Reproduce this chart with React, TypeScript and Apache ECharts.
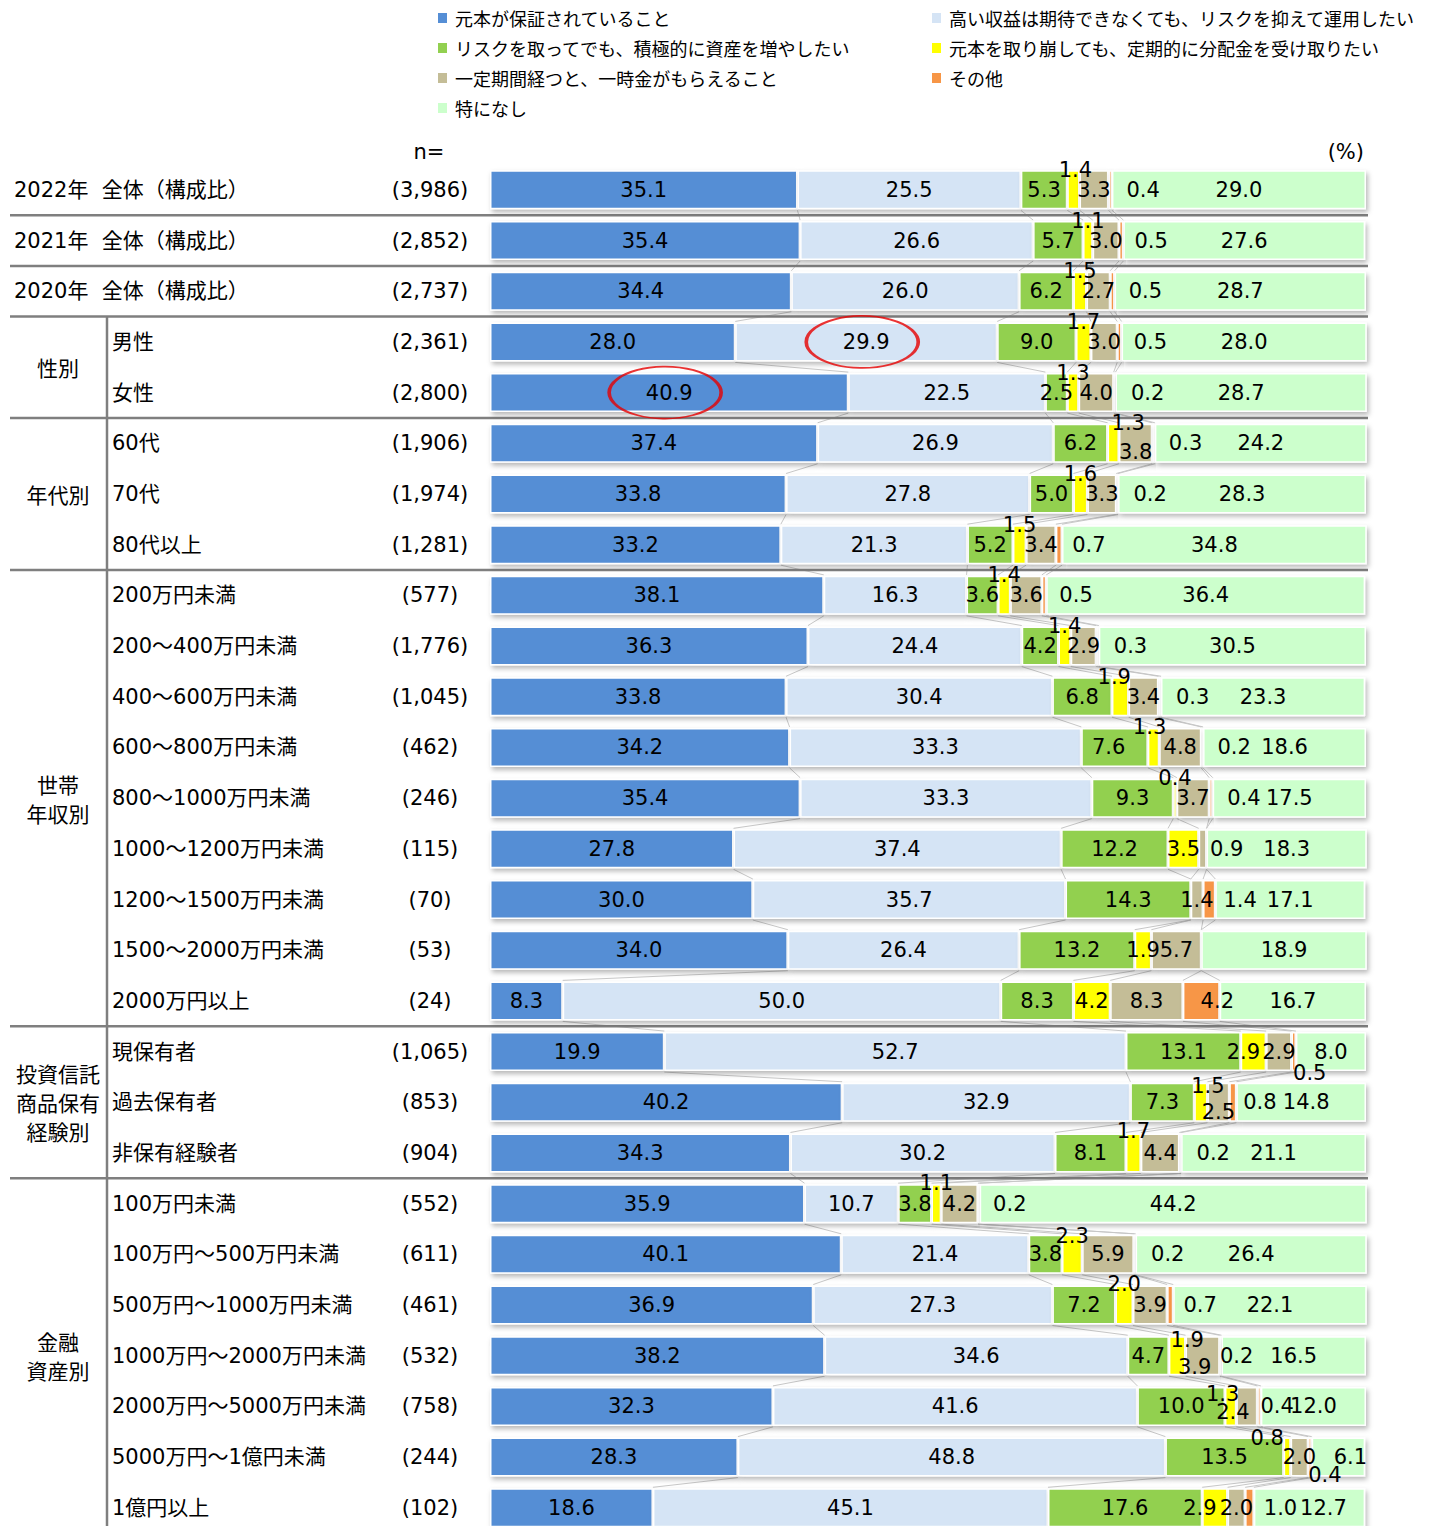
import React, { useEffect, useRef } from "react";
import * as echarts from "echarts";

const seriesNames = [
  "元本が保証されていること",
  "高い収益は期待できなくても、リスクを抑えて運用したい",
  "リスクを取ってでも、積極的に資産を増やしたい",
  "元本を取り崩しても、定期的に分配金を受け取りたい",
  "一定期間経つと、一時金がもらえること",
  "その他",
  "特になし",
];
const seriesColors = ["#558ED5", "#D5E4F5", "#92D050", "#FFFF00", "#C4BD97", "#F79646", "#CCFFCC"];

const rowLabels = [
  "2022年  全体（構成比）", "2021年  全体（構成比）", "2020年  全体（構成比）",
  "男性", "女性",
  "60代", "70代", "80代以上",
  "200万円未満", "200～400万円未満", "400～600万円未満", "600～800万円未満", "800～1000万円未満",
  "1000～1200万円未満", "1200～1500万円未満", "1500～2000万円未満", "2000万円以上",
  "現保有者", "過去保有者", "非保有経験者",
  "100万円未満", "100万円～500万円未満", "500万円～1000万円未満", "1000万円～2000万円未満",
  "2000万円～5000万円未満", "5000万円～1億円未満", "1億円以上",
];
const nValues = [
  "(3,986)", "(2,852)", "(2,737)", "(2,361)", "(2,800)", "(1,906)", "(1,974)", "(1,281)",
  "(577)", "(1,776)", "(1,045)", "(462)", "(246)", "(115)", "(70)", "(53)", "(24)",
  "(1,065)", "(853)", "(904)", "(552)", "(611)", "(461)", "(532)", "(758)", "(244)", "(102)",
];
const groups = [
  { label: "性別", first: 3, last: 4 },
  { label: "年代別", first: 5, last: 7 },
  { label: "世帯\n年収別", first: 8, last: 16 },
  { label: "投資信託\n商品保有\n経験別", first: 17, last: 19 },
  { label: "金融\n資産別", first: 20, last: 26 },
];
const separatorsAfter = [0, 1, 2, 4, 7, 16, 19];

const principal = [35.1, 35.4, 34.4, 28.0, 40.9, 37.4, 33.8, 33.2, 38.1, 36.3, 33.8, 34.2, 35.4, 27.8, 30.0, 34.0, 8.3, 19.9, 40.2, 34.3, 35.9, 40.1, 36.9, 38.2, 32.3, 28.3, 18.6];
const lowRisk = [25.5, 26.6, 26.0, 29.9, 22.5, 26.9, 27.8, 21.3, 16.3, 24.4, 30.4, 33.3, 33.3, 37.4, 35.7, 26.4, 50.0, 52.7, 32.9, 30.2, 10.7, 21.4, 27.3, 34.6, 41.6, 48.8, 45.1];
const highRisk = [5.3, 5.7, 6.2, 9.0, 2.5, 6.2, 5.0, 5.2, 3.6, 4.2, 6.8, 7.6, 9.3, 12.2, 14.3, 13.2, 8.3, 13.1, 7.3, 8.1, 3.8, 3.8, 7.2, 4.7, 10.0, 13.5, 17.6];
const dividend = [1.4, 1.1, 1.5, 1.7, 1.3, 1.3, 1.6, 1.5, 1.4, 1.4, 1.9, 1.3, 0.4, 3.5, 0.0, 1.9, 4.2, 2.9, 1.5, 1.7, 1.1, 2.3, 2.0, 1.9, 1.3, 0.8, 2.9];
const lumpSum = [3.3, 3.0, 2.7, 3.0, 4.0, 3.8, 3.3, 3.4, 3.6, 2.9, 3.4, 4.8, 3.7, 0.9, 1.4, 5.7, 8.3, 2.9, 2.5, 4.4, 4.2, 5.9, 3.9, 3.9, 2.4, 2.0, 2.0];
const other = [0.4, 0.5, 0.5, 0.5, 0.2, 0.3, 0.2, 0.7, 0.5, 0.3, 0.3, 0.2, 0.4, 0.0, 1.4, 0.0, 4.2, 0.5, 0.8, 0.2, 0.2, 0.2, 0.7, 0.2, 0.4, 0.4, 1.0];
const noneInParticular = [29.0, 27.6, 28.7, 28.0, 28.7, 24.2, 28.3, 34.8, 36.4, 30.5, 23.3, 18.6, 17.5, 18.3, 17.1, 18.9, 16.7, 8.0, 14.8, 21.1, 44.2, 26.4, 22.1, 16.5, 12.0, 6.1, 12.7];

const allSeries = [principal, lowRisk, highRisk, dividend, lumpSum, other, noneInParticular];

// label displacement (styling), keyed by series index -> row index -> [dx, dy]
const labelOffsets: Record<number, Record<number, [number, number]>> = {
  2: { 11: [-6, 0] },
  3: {
    0: [2, -20], 1: [0, -20], 2: [0, -20], 3: [0, -20], 4: [0, -20], 5: [15, -20], 6: [0, -20],
    7: [0, -20], 8: [0, -20], 9: [0, -20], 10: [-6, -20], 11: [-4, -20], 12: [0, -20],
    17: [-10, 0], 18: [7, -16], 19: [0, -22], 20: [0, -21], 21: [0, -18], 22: [0, -21],
    23: [10, -16], 24: [-8, -12], 25: [-20, -19], 26: [-15, 0],
  },
  4: { 5: [0, 9], 13: [24, 0], 18: [0, 10], 23: [-8, 11], 24: [-14, 6] },
  5: {
    0: [33, 0], 1: [30, 0], 2: [33, 0], 3: [31, 0], 4: [33, 0], 5: [32, 0], 6: [33, 0], 7: [30, 0],
    8: [32, 0], 9: [33, 0], 10: [33, 0], 11: [32, 0], 12: [33, 0], 14: [31, 0], 16: [16, 0],
    17: [16, 21], 18: [27, 0], 19: [33, 0], 20: [31, 0], 21: [33, 0], 22: [30, 0], 23: [16, 0],
    24: [18, 0], 25: [15, 18], 26: [31, 0],
  },
  6: { 18: [5, 0], 25: [12, 0], 26: [14, 0] },
};

const highlighted = [
  { series: 1, row: 3 },
  { series: 0, row: 4 },
];

const latinFont = "'DejaVu Sans', 'Noto Sans CJK JP', sans-serif";
const cjkFont = "'Noto Sans CJK JP', 'DejaVu Sans', sans-serif";

export default function App() {
  const ref = useRef<HTMLDivElement>(null);
  useEffect(() => {
    document.body.style.margin = "0";
    const chart = echarts.init(ref.current!, null, { renderer: "svg" });
    const H = 1526;
    const gridLeft = 490;
    const gridRight = 64;
    const gridTop = 164.5;
    const pitch = 50.69;
    const nRows = rowLabels.length;
    const barWidth = 39;
    const rowY = (i: number) => gridTop + (i + 0.5) * pitch;

    const barSeries = allSeries.map((vals, s) => ({
      type: "bar",
      name: seriesNames[s],
      stack: "total",
      yAxisIndex: 0,
      xAxisIndex: 0,
      barWidth,
      z: 3,
      itemStyle: {
        color: seriesColors[s],
        borderColor: "#ffffff",
        borderWidth: 1.5,
        shadowColor: "rgba(0,0,0,0.28)",
        shadowBlur: 5,
        shadowOffsetX: 2,
        shadowOffsetY: 3,
      },
      label: {
        show: true,
        position: "inside",
        color: "#000",
        fontSize: 21,
        fontFamily: latinFont,
        formatter: (p: any) => (p.value > 0 ? Number(p.value).toFixed(1) : ""),
      },
      data: vals.map((v, i) => {
        const off = labelOffsets[s] && labelOffsets[s][i];
        return off ? { value: v, label: { offset: off } } : { value: v };
      }),
    }));

    const connectorSeries = {
      type: "custom",
      xAxisIndex: 0,
      yAxisIndex: 0,
      z: 1,
      silent: true,
      encode: { x: 0, y: 1 },
      data: rowLabels.map((_, i) => [0, i]),
      renderItem: (params: any, api: any) => {
        const i = api.value(1);
        if (i >= nRows - 1) return null;
        const half = barWidth / 2;
        const children: any[] = [];
        let c1 = 0;
        let c2 = 0;
        for (let k = 0; k < allSeries.length - 1; k++) {
          c1 += allSeries[k][i];
          c2 += allSeries[k][i + 1];
          const p1 = api.coord([c1, i]);
          const p2 = api.coord([c2, i + 1]);
          children.push({
            type: "line",
            shape: { x1: p1[0], y1: p1[1] + half + 1, x2: p2[0], y2: p2[1] - half - 1 },
            style: { stroke: "#C8C8C8", lineWidth: 1 },
          });
        }
        return { type: "group", children };
      },
    };

    const ellipseSeries = {
      type: "scatter",
      xAxisIndex: 0,
      yAxisIndex: 0,
      z: 10,
      silent: true,
      symbol: "circle",
      symbolSize: [112, 52],
      symbolOffset: [-4, 0],
      itemStyle: { color: "rgba(0,0,0,0)", borderColor: "#E60000", borderWidth: 2.5 },
      data: highlighted.map((h) => {
        let start = 0;
        for (let k = 0; k < h.series; k++) start += allSeries[k][h.row];
        return [start + allSeries[h.series][h.row] / 2, h.row];
      }),
    };

    const graphics: any[] = [];
    separatorsAfter.forEach((i) => {
      const y = gridTop + (i + 1) * pitch;
      graphics.push({
        type: "line",
        shape: { x1: 10, y1: y, x2: 1368, y2: y },
        style: { stroke: "#7F7F7F", lineWidth: 2.5 },
        z: 2,
      });
    });
    graphics.push({
      type: "line",
      shape: { x1: 107, y1: gridTop + 3 * pitch, x2: 107, y2: H },
      style: { stroke: "#7F7F7F", lineWidth: 2.5 },
      z: 2,
    });
    groups.forEach((g) => {
      const y = (rowY(g.first) + rowY(g.last)) / 2;
      graphics.push({
        type: "text",
        x: 58,
        y,
        style: {
          text: g.label,
          fill: "#000",
          font: `21px ${cjkFont}`,
          align: "center",
          verticalAlign: "middle",
          lineHeight: 29,
        },
        z: 5,
      });
    });
    graphics.push({
      type: "text",
      x: 429,
      y: 152,
      style: { text: "n=", fill: "#000", font: `21px ${latinFont}`, align: "center", verticalAlign: "middle" },
    });
    graphics.push({
      type: "text",
      x: 1364,
      y: 152,
      style: { text: "(%)", fill: "#000", font: `21px ${latinFont}`, align: "right", verticalAlign: "middle" },
    });

    const legendCommon = {
      orient: "vertical",
      icon: "rect",
      itemWidth: 9,
      itemHeight: 10,
      itemGap: 10,
      padding: 0,
      top: 8,
      selectedMode: false,
      itemStyle: { borderWidth: 0, shadowBlur: 0, shadowOffsetX: 0, shadowOffsetY: 0 },
      textStyle: { fontSize: 18, lineHeight: 20, fontFamily: cjkFont, color: "#000", padding: [0, 0, 0, 3] },
    };

    const yAxisBase = {
      type: "category",
      position: "left",
      offset: 0,
      inverse: true,
      data: rowLabels,
      axisLine: { show: false },
      axisTick: { show: false },
      splitLine: { show: false },
    };

    const option: any = {
      animation: false,
      backgroundColor: "#ffffff",
      legend: [
        { ...legendCommon, left: 438, data: [seriesNames[0], seriesNames[2], seriesNames[4], seriesNames[6]] },
        { ...legendCommon, left: 932, data: [seriesNames[1], seriesNames[3], seriesNames[5]] },
      ],
      grid: {
        left: gridLeft,
        right: gridRight,
        top: gridTop,
        height: pitch * nRows,
        containLabel: false,
        outerBoundsMode: "none",
      },
      xAxis: {
        type: "value",
        min: 0,
        max: 100,
        show: false,
      },
      yAxis: [
        {
          ...yAxisBase,
          axisLabel: {
            interval: 0,
            align: "left",
            margin: gridLeft - 112,
            color: "#000",
            fontSize: 21,
            fontFamily: latinFont,
            formatter: (v: string, idx: number) => (idx < 3 ? "" : v),
          },
        },
        {
          ...yAxisBase,
          axisLabel: {
            interval: 0,
            align: "left",
            margin: gridLeft - 14,
            color: "#000",
            fontSize: 21,
            fontFamily: latinFont,
            formatter: (v: string, idx: number) => (idx < 3 ? v : ""),
          },
        },
        {
          ...yAxisBase,
          axisLabel: {
            interval: 0,
            align: "center",
            margin: gridLeft - 430,
            color: "#000",
            fontSize: 21,
            fontFamily: latinFont,
            formatter: (_v: string, idx: number) => nValues[idx],
          },
        },
      ],
      graphic: graphics,
      series: [connectorSeries, ...barSeries, ellipseSeries],
    };
    chart.setOption(option);
    return () => chart.dispose();
  }, []);
  return <div ref={ref} style={{ width: 1430, height: 1526 }} />;
}
